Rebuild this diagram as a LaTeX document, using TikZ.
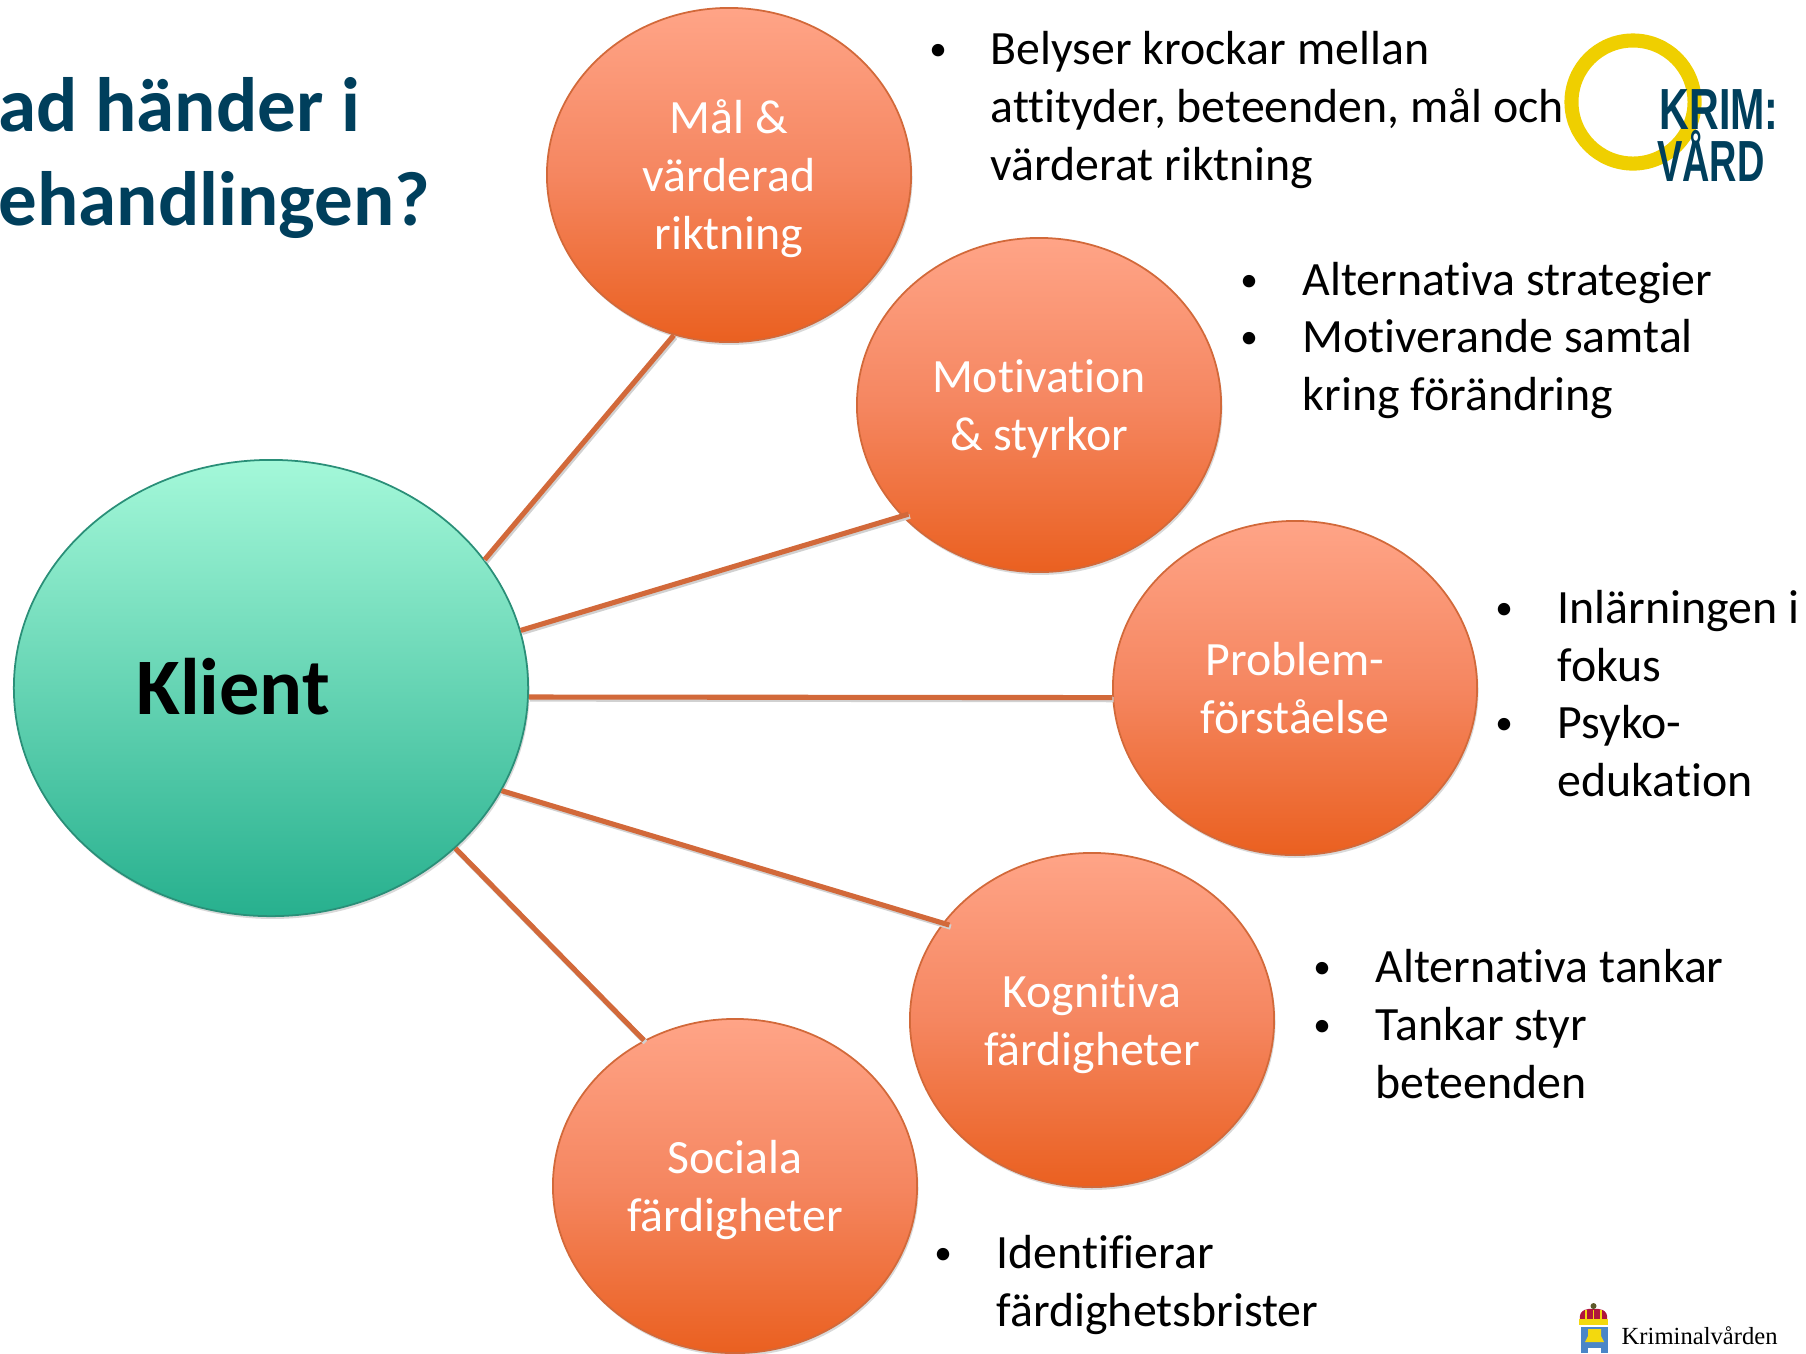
\documentclass[tikz,border=0pt]{standalone}
\usepackage{fontspec}
\setmainfont{Carlito}[Ligatures=NoCommon]
\newfontfamily\logofont{Liberation Sans}
\newfontfamily\crestfont{Liberation Serif}
\usetikzlibrary{shapes.geometric,shadows}
\definecolor{navy}{HTML}{003F5C}
\definecolor{linkcol}{HTML}{D2693A}
\definecolor{ringcol}{HTML}{EFCF00}
\definecolor{orange0}{HTML}{D2693A}
\definecolor{orange1}{HTML}{FFA487}
\definecolor{orange2}{HTML}{EA6020}
\definecolor{orange3}{HTML}{F58660}
\definecolor{green1}{HTML}{A4F8D9}
\definecolor{green2}{HTML}{27B08E}
\definecolor{green3}{HTML}{2A8F78}
\definecolor{crestred}{HTML}{B0163C}
\definecolor{crestyellow}{HTML}{F3D90E}
\definecolor{crestblue}{HTML}{4A86C8}
\newcommand{\topicup}{\rule{0pt}{12.4pt}}
\tikzset{
  topic/.style={ellipse,minimum width=3.64cm,minimum height=3.34cm,inner sep=0pt,
    draw=orange0,line width=0.5pt,
    top color=orange1,bottom color=orange2,middle color=orange3,
    drop shadow={shadow xshift=0.4pt,shadow yshift=-0.8pt,opacity=.3},
    align=center,text=white,font=\fontsize{13.6}{16.4}\selectfont,
    execute at end node={\rule[-3pt]{0pt}{3pt}}},
  client/.style={ellipse,minimum width=5.14cm,minimum height=4.56cm,inner sep=0pt,
    draw=green3,line width=0.5pt,top color=green1,bottom color=green2,
    drop shadow={shadow xshift=0.4pt,shadow yshift=-0.8pt,opacity=.3}},
  link/.style={draw=linkcol,line width=1.45pt,
    preaction={draw=black!18,line width=1.45pt,transform canvas={shift={(0.4pt,-0.6pt)}}}},
  notes/.style={anchor=base west,align=left,inner sep=0pt,font=\fontsize{13.6}{16.4}\selectfont},
  dot/.style={anchor=base,inner sep=0pt,font=\fontsize{10}{16.4}\selectfont},
  logotext/.style={anchor=base,inner sep=0pt,text=navy,xscale=0.71,font=\logofont\bfseries\fontsize{16.5}{16}\selectfont}
}
\begin{document}
\begin{tikzpicture}[x=0.01cm,y=-0.01cm]
\useasboundingbox (0,0) rectangle (1806,1353);

\node[anchor=base west,align=left,inner sep=0pt,text=navy,font=\bfseries\fontsize{21.9}{26.5}\selectfont] (title) at (-2,225) {ad händer i\\ehandlingen?};

\node[client] (klient) at (271,688) {};
\node[anchor=base,inner sep=0pt,font=\bfseries\fontsize{22.8}{26}\selectfont] (klient_t) at (233,714) {Klient};

\node[topic] (mal) at (729,175) {\topicup Mål \&\\värderad\\riktning};
\node[topic] (motivation) at (1039,405) {\topicup Motivation\\\& styrkor};
\node[topic] (problem) at (1295,688) {\topicup Problem-\\förståelse};
\node[topic] (kognitiva) at (1092,1020) {\topicup Kognitiva\\färdigheter};
\node[topic] (sociala) at (735,1186) {\topicup Sociala\\färdigheter};

\path[link] (klient.31.5) -- (mal.-109.5);
\path[link,shorten >=-2pt] (klient.13.2) -- (motivation.219.7);
\path[link] (klient.-2) -- (problem.183);
\path[link,shorten >=-2pt] (klient.-24.4) -- (kognitiva.147.4);
\path[link] (klient.-41.5) -- (sociala.122.3);

\node[notes] (n_1) at (990,180) {Belyser krockar mellan\\attityder, beteenden, mål och\\värderat riktning};
\node[notes] (n_2) at (1302,295) {Alternativa strategier};
\node[notes] (n_3) at (1302,410) {Motiverande samtal\\kring förändring};
\node[notes] (n_4) at (1557,681) {Inlärningen i\\fokus};
\node[notes] (n_5) at (1557,796) {Psyko-\\edukation};
\node[notes] (n_6) at (1375,982) {Alternativa tankar};
\node[notes] (n_7) at (1375,1098) {Tankar styr\\beteenden};
\node[notes] (n_8) at (996,1326) {Identifierar\\färdighetsbrister};

\foreach \x/\y [count=\i] in {938/60,1249/291,1249/348,1504/619,1504/734,1322/978,1322/1036,943/1264}
  \node[dot] (d_\i) at (\x,\y) {\textbullet};

\node[circle,draw=ringcol,line width=4pt,minimum size=1.23cm,inner sep=0pt] (ring) at (1633,102) {};
\node[logotext] (krim) at (1719,129) {KRIM:};
\node[logotext,xscale=0.92] (vard) at (1711,181) {VÅRD};

\fill[crestred] (1580,1320) .. controls (1578,1309) and (1589,1308) .. (1593.5,1309) .. controls (1598,1308) and (1609,1309) .. (1607,1320) -- cycle;
\fill[crestyellow] (1579,1319) rectangle (1608,1325);
\foreach \x in {1586,1593.5,1601}
  \fill[crestyellow] (\x-0.7,1310) rectangle (\x+0.7,1320);
\fill[black!45!olive] (1593.5,1306) circle (3);
\fill[crestblue] (1581,1327) rectangle (1608,1353);
\fill[crestyellow] (1585,1342) -- (1604,1342) -- (1601,1336) -- (1601,1329) -- (1588,1329) -- (1588,1336) -- cycle;
\fill[white] (1588,1353) rectangle (1601,1348);

\node[anchor=base west,inner sep=0pt,font=\crestfont\fontsize{7}{9}\selectfont] (krimvard) at (1621,1344) {Kriminalvården};
\end{tikzpicture}
\end{document}
